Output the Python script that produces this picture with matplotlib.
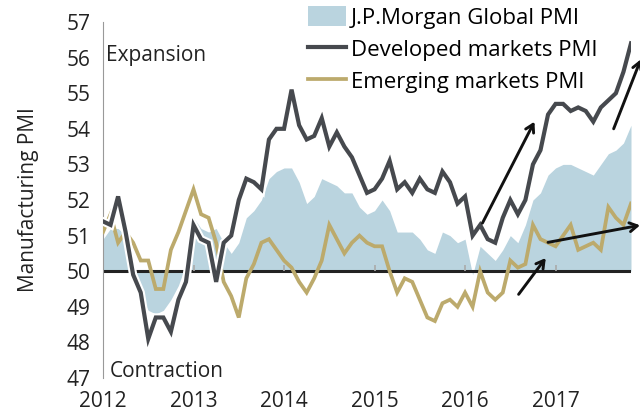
import numpy as np
import matplotlib
matplotlib.use("Agg")
import matplotlib.pyplot as plt
from matplotlib.patches import Patch
from matplotlib.lines import Line2D
import matplotlib.patheffects as pe

plt.rcParams['font.family'] = ['Open Sans', 'DejaVu Sans']

# monthly values, Jan 2012 .. Nov 2017
global_pmi = [50.9, 51.2, 51.2, 51.0, 50.3, 49.3, 48.9, 48.8, 48.9, 49.2, 49.6, 50.2,
              51.5, 51.2, 51.1, 51.2, 50.8, 50.5, 50.8, 51.5, 51.7, 52.0, 52.6, 52.8,
              52.9, 52.9, 52.5, 51.9, 52.1, 52.6, 52.5, 52.4, 52.2, 52.2, 51.8, 51.6,
              51.7, 52.0, 51.7, 51.1, 51.1, 51.1, 50.9, 50.6, 50.5, 51.1, 51.0, 50.8,
              50.9, 49.9, 50.7, 50.5, 50.3, 50.6, 51.0, 50.8, 51.3, 52.0, 52.2, 52.7,
              52.9, 53.0, 53.0, 52.9, 52.8, 52.7, 53.0, 53.3, 53.4, 53.6, 54.1]
developed = [51.4, 51.3, 52.1, 51.1, 49.9, 49.4, 48.1, 48.7, 48.7, 48.3, 49.2, 49.7,
             51.3, 50.9, 50.8, 49.7, 50.8, 51.0, 52.0, 52.6, 52.5, 52.3, 53.7, 54.0,
             54.0, 55.1, 54.1, 53.7, 53.8, 54.3, 53.5, 53.9, 53.5, 53.2, 52.7, 52.2,
             52.3, 52.6, 53.1, 52.3, 52.5, 52.2, 52.6, 52.3, 52.2, 52.8, 52.5, 51.9,
             52.1, 51.0, 51.3, 50.9, 50.8, 51.5, 52.0, 51.6, 52.0, 53.0, 53.4, 54.4,
             54.7, 54.7, 54.5, 54.6, 54.5, 54.2, 54.6, 54.8, 55.0, 55.6, 56.4]
emerging = [51.1, 51.6, 50.8, 51.1, 50.8, 50.3, 50.3, 49.5, 49.5, 50.6, 51.1, 51.7,
            52.3, 51.6, 51.5, 50.8, 49.7, 49.3, 48.7, 49.8, 50.2, 50.8, 50.9, 50.6,
            50.3, 50.1, 49.7, 49.4, 49.8, 50.3, 51.3, 50.9, 50.5, 50.8, 51.0, 50.8,
            50.7, 50.7, 50.0, 49.4, 49.8, 49.7, 49.2, 48.7, 48.6, 49.1, 49.2, 49.0,
            49.4, 49.0, 50.0, 49.4, 49.2, 49.4, 50.3, 50.1, 50.2, 51.3, 50.9, 50.8,
            50.7, 51.0, 51.3, 50.6, 50.7, 50.8, 50.6, 51.8, 51.5, 51.3, 51.9]
years = ['2012', '2013', '2014', '2015', '2016', '2017']
year_pos = [0, 12, 24, 36, 48, 60]
yticks = [47, 48, 49, 50, 51, 52, 53, 54, 55, 56, 57]

blue = '#bad4df'
dark = '#46494e'
gold = '#bcaa6c'
fs = 15

x = np.arange(len(global_pmi))

fig = plt.figure(figsize=(6.4, 4.15), dpi=100)
ax = fig.add_axes([103/640, 1 - 378/415, 528/640, 356/415])

ax.fill_between(x, global_pmi, 50, color=blue, lw=0, zorder=1)
ax.axhline(50, color='#222222', lw=2.2, zorder=2)
ax.vlines(year_pos[1:], 50, 50.18, color='#aaaaaa', lw=1.2, zorder=2)
ax.plot(x, emerging, color=gold, lw=2.7, zorder=3, solid_joinstyle='miter')
ax.plot(x, developed, color=dark, lw=3.0, zorder=4, solid_joinstyle='miter',
        path_effects=[pe.Stroke(linewidth=6, foreground='white'), pe.Normal()])

arrows = [((50.3, 51.35), (57.2, 54.2)),
          ((67.7, 54.0), (71.3, 55.95)),
          ((55.1, 49.35), (58.7, 50.37)),
          ((59.0, 50.81), (71.2, 51.29))]
for start, end in arrows:
    ax.annotate('', xy=end, xytext=start, annotation_clip=False, zorder=5,
                arrowprops=dict(arrowstyle='->,head_length=0.55,head_width=0.32',
                                color='#111111', lw=2.1, shrinkA=0, shrinkB=0))

ax.set_xlim(0, 70)
ax.set_ylim(47, 57)
ax.set_yticks(yticks)
ax.set_xticks(year_pos)
ax.set_xticklabels(years)
ax.tick_params(axis='y', length=0, pad=9, labelsize=fs, labelcolor='#222222')
ax.tick_params(axis='x', length=0, pad=9, labelsize=fs, labelcolor='#222222')
for s in ['top', 'right', 'bottom']:
    ax.spines[s].set_visible(False)
ax.spines['left'].set_color('#999999')
ax.spines['left'].set_linewidth(0.8)
ax.set_ylabel('Manufacturing PMI', fontsize=fs, color='#222222', labelpad=20)

ax.text(0.006, 0.907, 'Expansion', transform=ax.transAxes, fontsize=fs,
        color='#222222', va='center', ha='left')
ax.text(0.013, 0.017, 'Contraction', transform=ax.transAxes, fontsize=fs,
        color='#222222', va='center', ha='left')

handles = [Patch(facecolor=blue, edgecolor='none'),
           Line2D([], [], color=dark, lw=3.0),
           Line2D([], [], color=gold, lw=2.7)]
labels = ['J.P.Morgan Global PMI', 'Developed markets PMI', 'Emerging markets PMI']
fig.legend(handles, labels, loc='upper left', bbox_to_anchor=(304/640, 1 - 2/415),
           frameon=False, fontsize=16, handlelength=1.7, handleheight=0.95,
           handletextpad=0.2, labelspacing=0.45, borderaxespad=0, borderpad=0.2)

fig.savefig('out.png', dpi=100)
